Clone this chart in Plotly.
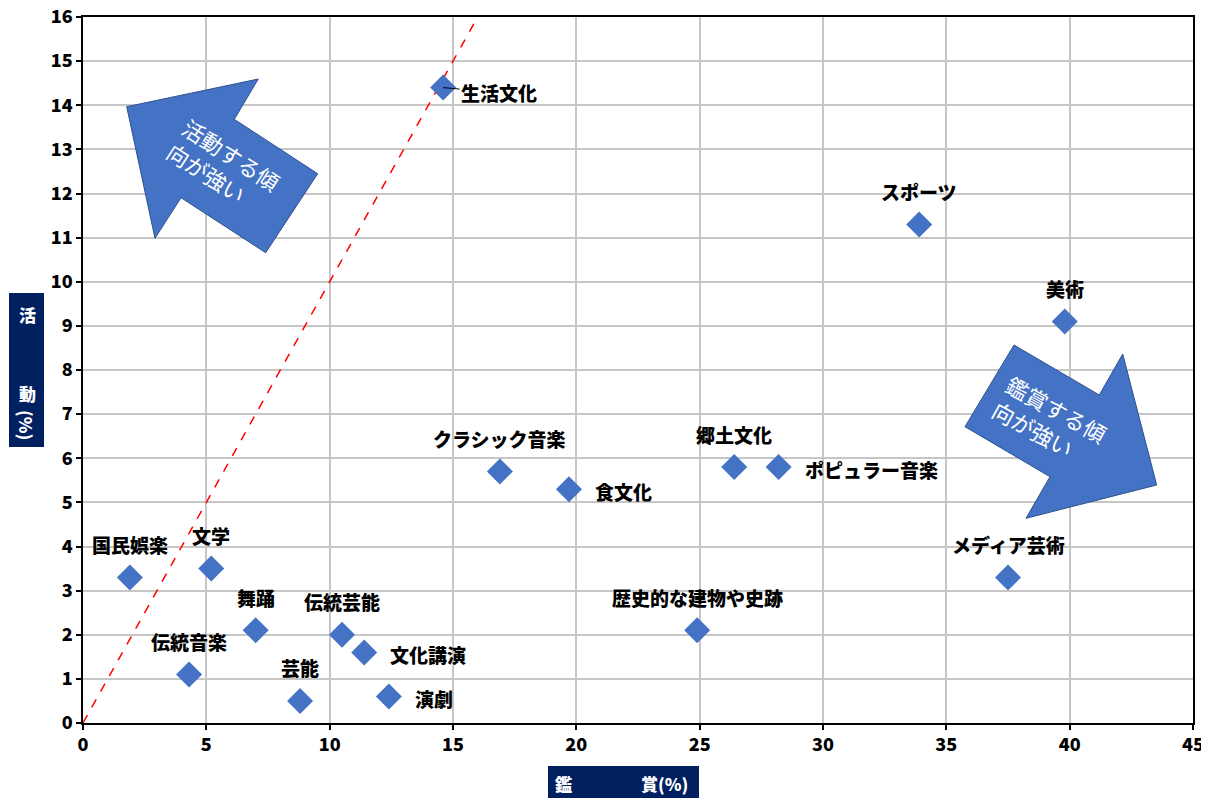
import plotly.graph_objects as go

# ---- data ----
labels = ["国民娯楽", "文学", "伝統音楽", "舞踊", "芸能", "伝統芸能", "文化講演", "演劇",
          "生活文化", "クラシック音楽", "食文化", "歴史的な建物や史跡", "郷土文化",
          "ポピュラー音楽", "スポーツ", "メディア芸術", "美術"]
appreciation = [1.9, 5.2, 4.3, 7.0, 8.8, 10.5, 11.4, 12.4,
                14.6, 16.9, 19.7, 24.9, 26.4, 28.2, 33.9, 37.5, 39.8]
activity = [3.3, 3.5, 1.1, 2.1, 0.5, 2.0, 1.6, 0.6,
            14.4, 5.7, 5.3, 2.1, 5.8, 5.8, 11.3, 3.3, 9.1]
ref_line_x = [0, 16]
ref_line_y = [0, 16]
x_ticks = [0, 5, 10, 15, 20, 25, 30, 35, 40, 45]
y_ticks = list(range(0, 17))

# ---- label placement (style) ----
label_pos = ["top", "top", "top", "top", "top", "top", "right", "right",
             "leader", "top", "right", "top", "top", "right", "top", "top", "top"]

# page body has an 8px margin: draw the figure 8px smaller and shift coordinates
OFF = 8
W, H = 1209 - OFF, 798 - OFF
ML, MT = 83 - OFF, 17 - OFF
MR = W - (1193 - OFF)
MB = H - (723 - OFF)
PW, PH = W - ML - MR, H - MT - MB


def px2paper(px, py):
    # px, py are positions measured in the reference screenshot
    return (px - OFF - ML) / PW, (H - MB - (py - OFF)) / PH


def poly_path(pts):
    p = [px2paper(x, y) for x, y in pts]
    return "M " + " L ".join(f"{a:.5f},{b:.5f}" for a, b in p) + " Z"


fig = go.Figure()

fig.add_trace(go.Scatter(
    x=ref_line_x, y=ref_line_y, mode="lines",
    line=dict(color="#FF0000", width=1.5, dash="dash"),
    hoverinfo="skip", showlegend=False, cliponaxis=True))

fig.add_trace(go.Scatter(
    x=appreciation, y=activity, mode="markers",
    marker=dict(symbol="diamond", size=20, color="#4472C4"),
    text=labels, showlegend=False))

lab_font = dict(family="Noto Sans CJK JP", size=19, color="black", weight=900)
annotations = []
for name, xv, yv, pos in zip(labels, appreciation, activity, label_pos):
    if pos == "top":
        annotations.append(dict(x=xv, y=yv, text=name, showarrow=False,
                                xanchor="center", yanchor="middle",
                                yshift=33, font=lab_font))
    elif pos == "right":
        annotations.append(dict(x=xv, y=yv, text=name, showarrow=False,
                                xanchor="left", yanchor="middle",
                                xshift=24, yshift=-2, font=lab_font))
    else:
        annotations.append(dict(x=xv, y=yv, text=name, showarrow=True,
                                arrowhead=0, arrowwidth=1, arrowcolor="black",
                                ax=56, ay=5, standoff=0, font=lab_font))

# arrow texts
arrow_font = dict(family="Noto Sans CJK JP", size=22, color="white")
cx, cy = px2paper(224, 166)
annotations.append(dict(xref="paper", yref="paper", x=cx, y=cy,
                        xanchor="center", yanchor="middle",
                        text="活動する傾<br>向が強い", showarrow=False,
                        textangle=33, align="left", font=arrow_font))
cx, cy = px2paper(1050, 421)
annotations.append(dict(xref="paper", yref="paper", x=cx, y=cy,
                        xanchor="center", yanchor="middle",
                        text="鑑賞する傾<br>向が強い", showarrow=False,
                        textangle=29, align="left", font=arrow_font))

# axis titles
title_font = dict(family="Noto Sans CJK JP", size=17, color="white", weight=900)
for txt, px, py, ang in [("活", 27, 314, 0), ("動", 27, 393, 0), ("(%)", 27, 425, 90)]:
    ax_, ay_ = px2paper(px, py)
    annotations.append(dict(xref="paper", yref="paper", x=ax_, y=ay_, text=txt,
                            xanchor="center", yanchor="middle",
                            showarrow=False, textangle=ang, font=title_font))
for txt, px, py in [("鑑", 563, 783), ("賞(%)", 664, 783)]:
    ax_, ay_ = px2paper(px, py)
    annotations.append(dict(xref="paper", yref="paper", x=ax_, y=ay_, text=txt,
                            xanchor="center", yanchor="middle",
                            showarrow=False, font=title_font))

shapes = []
# title boxes
for (x0, y0, x1, y1) in [(9, 293, 44, 447), (548, 766, 699, 798)]:
    a0, b0 = px2paper(x0, y1)
    a1, b1 = px2paper(x1, y0)
    shapes.append(dict(type="rect", xref="paper", yref="paper", x0=a0, y0=b0,
                       x1=a1, y1=b1, fillcolor="#002060", line=dict(width=0),
                       layer="below"))
# block arrows
ul_arrow = [(126.7, 106.7), (258.3, 79), (234.3, 119.3), (317.7, 173.7),
            (265.7, 252.7), (181, 197.7), (155, 238.3)]
lr_arrow = [(965, 426.7), (1014, 345), (1099.3, 395), (1122.7, 354),
            (1156.7, 485), (1026, 518.3), (1050, 476.7)]
for pts in (ul_arrow, lr_arrow):
    shapes.append(dict(type="path", xref="paper", yref="paper", path=poly_path(pts),
                       fillcolor="#4472C4", line=dict(color="#2F528F", width=1),
                       layer="above"))

tick_font = dict(family="Noto Sans CJK JP", size=18, color="black", weight=900)
axis_common = dict(showgrid=True, gridcolor="#C6C6C6", gridwidth=1.5, zeroline=False,
                   showline=True, linecolor="black", linewidth=1.5, mirror=True,
                   ticks="outside", ticklen=5, tickcolor="black", tickwidth=1.5,
                   tickfont=tick_font, fixedrange=True, automargin=False,
                   ticklabeloverflow="allow")
fig.update_layout(
    width=W, height=H,
    margin=dict(l=ML, r=MR, t=MT, b=MB, autoexpand=False),
    paper_bgcolor="white", plot_bgcolor="white",
    annotations=annotations, shapes=shapes,
    xaxis=dict(range=[0, 45], tickvals=x_ticks, **axis_common),
    yaxis=dict(range=[0, 16], tickvals=y_ticks, **axis_common),
)

fig.write_html("out.html")
